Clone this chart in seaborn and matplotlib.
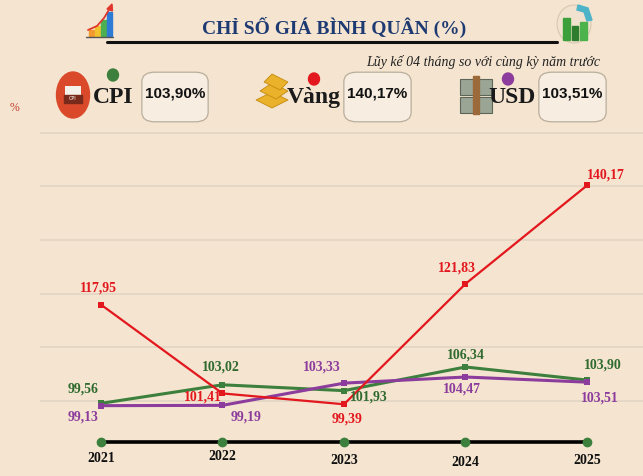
import matplotlib
matplotlib.use("Agg")
import matplotlib.pyplot as plt
from matplotlib.patches import FancyBboxPatch, Ellipse, Rectangle, Polygon
import seaborn as sns
import pandas as pd

# ---------------- data ----------------
years = ["2021", "2022", "2023", "2024", "2025"]
cpi = [99.56, 103.02, 101.93, 106.34, 103.90]
gold = [117.95, 101.41, 99.39, 121.83, 140.17]
usd = [99.13, 99.19, 103.33, 104.47, 103.51]
series_names = ["CPI", "Vàng", "USD"]
summary_values = ["103,90%", "140,17%", "103,51%"]
title = "CHỈ SỐ GIÁ BÌNH QUÂN (%)"
subtitle = "Lũy kế 04 tháng so với cùng kỳ năm trước"

BG = "#F5E5D0"
RED = "#E3171E"
GREEN = "#3D7F3D"
PURPLE = "#8C3C9C"
GREEN_T = "#2F6A2F"
NAVY = "#1E3A72"

sns.set_theme(style="white")
plt.rcParams["font.family"] = ["Liberation Serif", "DejaVu Serif"]

W, H = 643, 476
fig = plt.figure(figsize=(W / 100, H / 100), dpi=100, facecolor=BG)


def fx(x):
    return x / W


def fy(y):
    return 1 - y / H


# ---------------- axes ----------------
ax = fig.add_axes([fx(40), fy(442), fx(643) - fx(40), fy(130) - fy(442)])
ax.set_facecolor(BG)

rows = []
for name, vals in zip(series_names, [cpi, gold, usd]):
    for i, v in enumerate(vals):
        rows.append({"idx": i, "year": years[i], "value": v, "series": name})
df = pd.DataFrame(rows)

palette = {"CPI": GREEN, "Vàng": RED, "USD": PURPLE}
for name, lw in [("CPI", 2.2), ("USD", 2.2), ("Vàng", 1.6)]:
    sub = df[df["series"] == name]
    sns.lineplot(data=sub, x="idx", y="value", color=palette[name], marker="s",
                 markersize=5, markeredgewidth=0, linewidth=lw, ax=ax,
                 legend=False, zorder=3 if name != "Vàng" else 4)

ymin, ymax = 92.36, 150.5
ax.set_ylim(ymin, ymax)
ax.set_xlim(-0.502, 4.461)
ax.set_yticks([100, 110, 120, 130, 140, 150])
ax.grid(axis="y", color="#E4D6C4", linewidth=1.3, zorder=0)
ax.set_yticklabels([])
ax.set_xticks([])
ax.set_xlabel("")
ax.set_ylabel("")
for s in ax.spines.values():
    s.set_visible(False)

# baseline with dots
idxs = list(range(len(years)))
ax.plot(idxs, [ymin] * len(idxs), color="black", linewidth=2.6, clip_on=False, zorder=5)
ax.plot(idxs, [ymin] * len(idxs), linestyle="none", marker="o", markersize=6,
        color=GREEN, clip_on=False, zorder=6)
year_dy = [-16, -15, -18, -21, -18]
for i, y in enumerate(years):
    ax.annotate(y, (i, ymin), xytext=(0, year_dy[i]), textcoords="offset pixels",
                ha="center", va="center", fontsize=10, fontweight="bold",
                color="#111111", annotation_clip=False)

# data labels: offsets in pixels (dx, dy up)
lab_off = {
    "Vàng": [(-3, 17), (-20, -4), (3, -15), (-9, 16), (19, 10)],
    "CPI": [(-18, 14), (-2, 18), (25, -6), (0, 12), (16, 15)],
    "USD": [(-18, -11), (24, -12), (-22, 16), (-4, -12), (13, -16)],
}
lab_col = {"Vàng": RED, "CPI": GREEN_T, "USD": PURPLE}
for name, vals in zip(series_names, [cpi, gold, usd]):
    for i, v in enumerate(vals):
        dx, dy = lab_off[name][i]
        ax.annotate(f"{v:.2f}".replace(".", ","), (i, v), xytext=(dx, dy),
                    textcoords="offset pixels", ha="center", va="center",
                    fontsize=10, fontweight="bold", color=lab_col[name], zorder=7)

# ---------------- header ----------------
fig.text(fx(334), fy(27), title, ha="center", va="center", fontsize=14,
         fontweight="bold", color=NAVY)
fig.add_artist(plt.Line2D([fx(107), fx(557)], [fy(42), fy(42)], color="#111111",
                          linewidth=2.2))
fig.text(fx(600), fy(62), subtitle, ha="right", va="center", fontsize=10,
         fontstyle="italic", color="#222222")
fig.text(fx(14), fy(108), "%", ha="center", va="center", fontsize=8.5, color="#C0392B")

# left chart icon
bars_c = ["#F29A2E", "#F2C22E", "#4CAF50", "#2E7BD6"]
bars_h = [6, 10, 16, 24]
for k, (c, h) in enumerate(zip(bars_c, bars_h)):
    fig.add_artist(Rectangle((fx(89 + k * 6), fy(36)), fx(4.5), h / H, color=c))
fig.add_artist(plt.Line2D([fx(86), fx(113)], [fy(37), fy(37)], color="#555555", linewidth=1))
fig.add_artist(plt.Line2D([fx(88), fx(97), fx(104), fx(110)],
                          [fy(30), fy(26), fy(18), fy(8)], color="#E0362B", linewidth=1.3))
fig.add_artist(Polygon([(fx(107), fy(9)), (fx(112), fy(4)), (fx(112.5), fy(11))],
                       closed=True, color="#E0362B"))

# right icon
fig.add_artist(Ellipse((fx(574), fy(24)), 34 / W, 38 / H, facecolor="#F0E2CE",
                       edgecolor="#D8C8B0", linewidth=0.8))
fig.add_artist(Rectangle((fx(563), fy(40)), 7 / W, 22 / H, color="#3BA03B"))
fig.add_artist(Rectangle((fx(572), fy(40)), 6 / W, 14 / H, color="#2E7D2E"))
fig.add_artist(Rectangle((fx(580), fy(40)), 7 / W, 18 / H, color="#4CB24C"))
fig.add_artist(Polygon([(fx(578), fy(5)), (fx(588), fy(8)), (fx(592), fy(20)),
                        (fx(587), fy(21)), (fx(584), fy(12)), (fx(577), fy(10))],
                       closed=True, color="#4DB3C8"))

# summary row
# CPI icon
fig.add_artist(Ellipse((fx(73), fy(95)), 33 / W, 46 / H, color="#DA4A2A"))
fig.add_artist(Rectangle((fx(65), fy(104)), 16 / W, 18 / H, facecolor="#F4F0EA",
                         edgecolor="none"))
fig.add_artist(Rectangle((fx(64), fy(103)), 18 / W, 8 / H, color="#7A2A1A"))
fig.text(fx(73), fy(99), "CPI", ha="center", va="center", fontsize=3.5,
         color="white", family="DejaVu Sans")
# gold icon
for k in range(3):
    fig.add_artist(Polygon([(fx(256 + k * 4), fy(100 - k * 9)), (fx(272 + k * 4), fy(108 - k * 9)),
                            (fx(288), fy(100 - k * 9)), (fx(272), fy(92 - k * 9))],
                           closed=True, color="#E9B22A", ec="#C48A12", lw=0.6))
# USD icon
for k in range(2):
    fig.add_artist(Rectangle((fx(460), fy(95 + k * 18)), 32 / W, 16 / H,
                             facecolor="#9AA595", edgecolor="#5C6658", lw=0.8))
fig.add_artist(Rectangle((fx(473), fy(114)), 6 / W, 38 / H, color="#9C6A3A"))

dot_pos = [(113, 75), (314, 79), (508, 79)]
dot_col = [GREEN, RED, PURPLE]
name_pos = [(113, 98), (314, 98), (512, 98)]
box_x = [(141, 209), (343, 412), (538, 607)]
for k in range(3):
    fig.add_artist(Ellipse((fx(dot_pos[k][0]), fy(dot_pos[k][1])), 11 / W, 12 / H,
                           color=dot_col[k]))
    fig.text(fx(name_pos[k][0]), fy(name_pos[k][1]), series_names[k], ha="center",
             va="center", fontsize=17, fontweight="bold", color="#1A1A1A")
    x0, x1 = box_x[k]
    fig.add_artist(FancyBboxPatch((fx(x0 + 6), fy(118)), (x1 - x0 - 12) / W, 42 / H,
                                  boxstyle="round,pad=0.008,rounding_size=0.02",
                                  facecolor="#F7EDE0", edgecolor="#B9AE9C", linewidth=0.9))
    fig.text(fx((x0 + x1) / 2), fy(94), summary_values[k], ha="center", va="center",
             fontsize=11, fontweight="bold", color="#111111",
             family=["Liberation Sans Narrow", "Liberation Sans", "DejaVu Sans"])

fig.savefig("out.png", dpi=100, facecolor=BG)
